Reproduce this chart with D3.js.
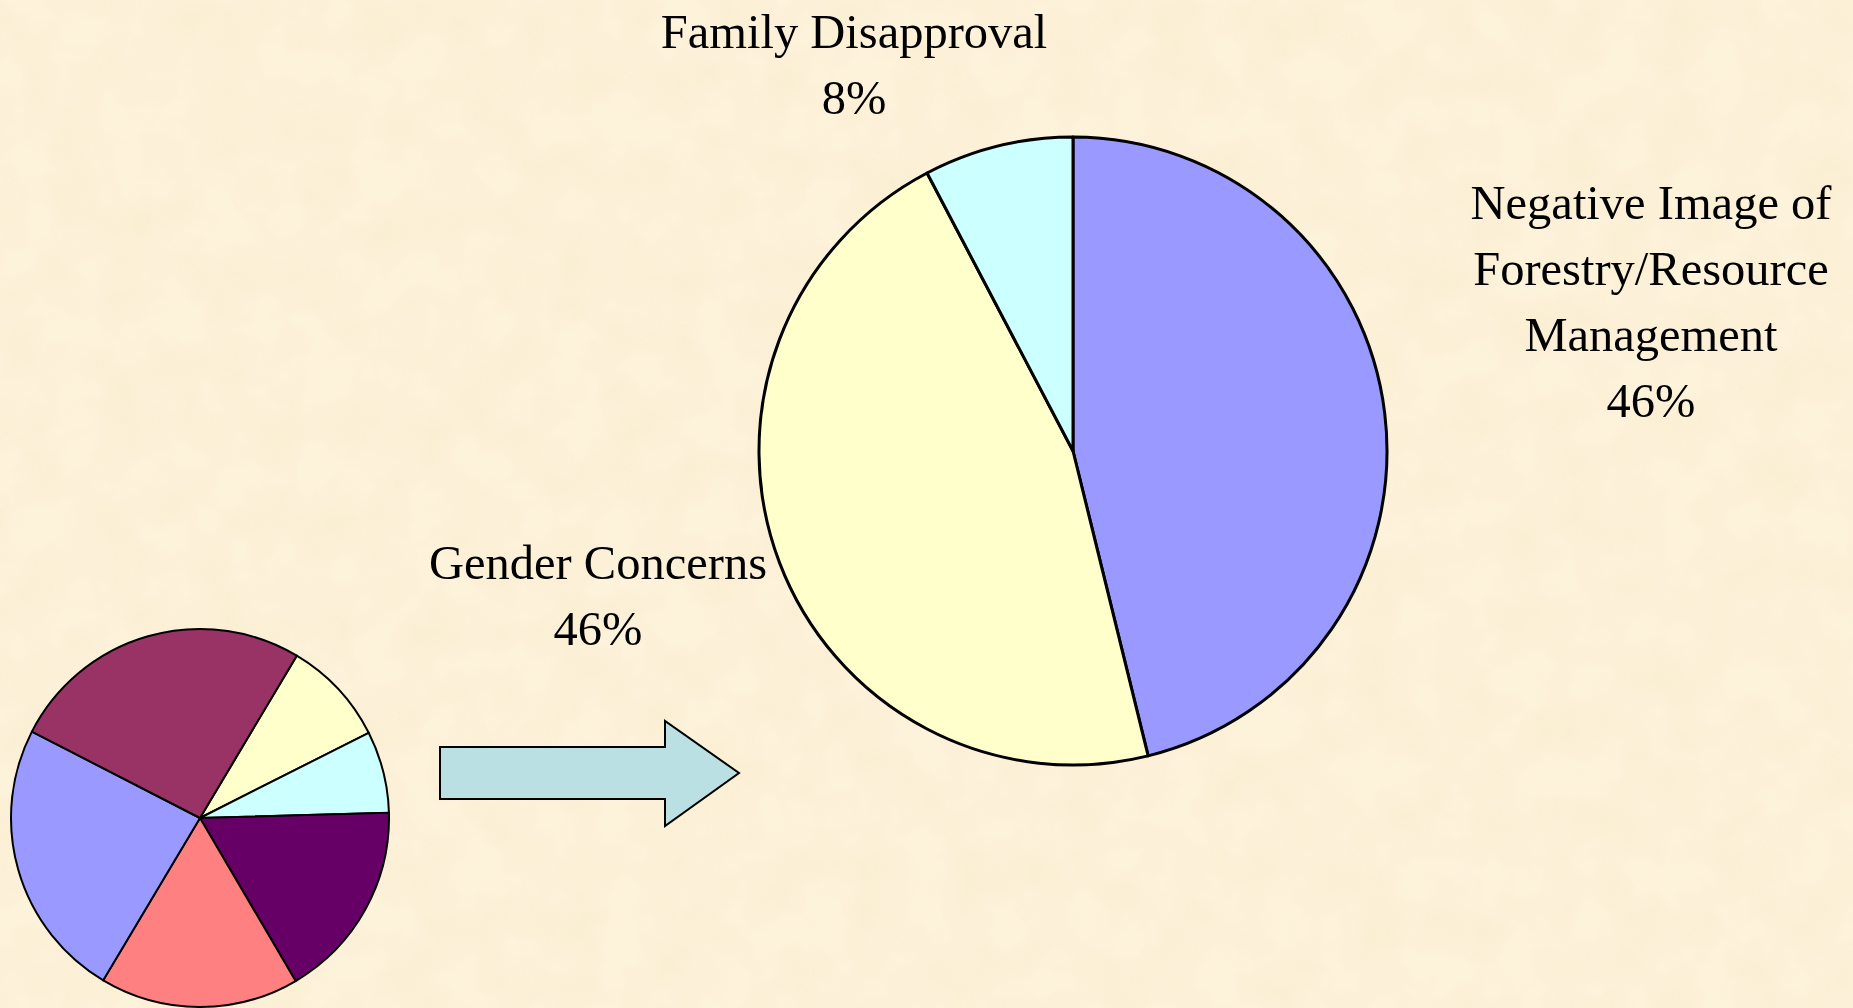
<!DOCTYPE html>
<html lang="en">
<head>
    <title>Reasons pie</title>
    <meta charset="utf-8">
    <style>
        body { margin: 0; overflow: hidden; background: #fbedd0; }
        .label {
            font-family: 'Liberation Serif', 'Times New Roman', serif;
            font-size: 48.5px;
            fill: black;
            text-anchor: middle;
        }
        .slice { stroke: black; stroke-linejoin: round; }
    </style>
</head>
<body>
<svg id="chart"></svg>
<script src="https://d3js.org/d3.v7.min.js"></script>
<script>
// overview pie (no labels)
const smallValues = [9, 7, 17, 17, 24, 26];
const smallColors = ["#FFFFCC", "#CCFFFF", "#660066", "#FF8080", "#9999FF", "#993366"];

// detail pie (counts -> shown as %)
const bigCategories = [
    ["Negative Image of", "Forestry/Resource", "Management"],
    ["Gender Concerns"],
    ["Family Disapproval"]
];
const bigValues = [6, 6, 1];
const bigColors = ["#9999FF", "#FFFFCC", "#CCFFFF"];

const W = 1853, H = 1008;
let svg = d3.select("#chart").attr("width", W).attr("height", H);

// parchment background
let defs = svg.append("defs");
let filt = defs.append("filter").attr("id", "paper")
    .attr("x", 0).attr("y", 0).attr("width", "100%").attr("height", "100%");
filt.append("feTurbulence")
    .attr("type", "fractalNoise")
    .attr("baseFrequency", 0.02)
    .attr("numOctaves", 3)
    .attr("seed", 7);
filt.append("feColorMatrix")
    .attr("type", "matrix")
    .attr("values", "0 0 0 0 0.92  0 0 0 0 0.82  0 0 0 0 0.58  0 0 0 -1.3 0.85");
svg.append("rect").attr("width", W).attr("height", H).attr("fill", "#fdf2da");
svg.append("rect").attr("width", W).attr("height", H).attr("filter", "url(#paper)").attr("opacity", 0.6);

// small pie
let small = {cx: 200, cy: 818, r: 189, start: 30.8 * Math.PI / 180};
let smallPie = d3.pie().sort(null).value(d => d)
    .startAngle(small.start).endAngle(small.start + 2 * Math.PI);
let smallArc = d3.arc().innerRadius(0).outerRadius(small.r);
svg.append("g")
    .attr("transform", "translate(" + small.cx + "," + small.cy + ")")
    .selectAll("path")
    .data(smallPie(smallValues))
    .join("path")
    .attr("class", "slice")
    .attr("d", smallArc)
    .attr("fill", (d, i) => smallColors[i])
    .attr("stroke-width", 2);

// arrow
let arrowPts = [[0, 0], [225, 0], [225, -26], [299, 26], [225, 79], [225, 52], [0, 52]];
svg.append("path")
    .attr("transform", "translate(440,747)")
    .attr("d", d3.line()(arrowPts) + "Z")
    .attr("fill", "#BBE0E3")
    .attr("stroke", "black")
    .attr("stroke-width", 2)
    .attr("stroke-linejoin", "miter");

// big pie
let big = {cx: 1073, cy: 451, r: 314};
let bigPie = d3.pie().sort(null).value(d => d);
let bigArc = d3.arc().innerRadius(0).outerRadius(big.r);
let gBig = svg.append("g")
    .attr("transform", "translate(" + big.cx + "," + big.cy + ")");
gBig.selectAll("path")
    .data(bigPie(bigValues))
    .join("path")
    .attr("class", "slice")
    .attr("d", bigArc)
    .attr("fill", (d, i) => bigColors[i])
    .attr("stroke-width", 3);

// labels, offsets from pie centre to first baseline
let labelPos = [[578, -232], [-475, 128], [-219, -403]];
let lineGap = 66;
let fmt = d3.format(".0%");
let total = d3.sum(bigValues);
gBig.selectAll("text")
    .data(bigValues)
    .join("text")
    .attr("class", "label")
    .attr("transform", (d, i) => "translate(" + labelPos[i][0] + "," + labelPos[i][1] + ")")
    .each(function(d, i) {
        let lines = bigCategories[i].concat([fmt(d / total)]);
        d3.select(this).selectAll("tspan")
            .data(lines)
            .join("tspan")
            .attr("x", 0)
            .attr("y", (l, j) => j * lineGap)
            .text(l => l);
    });
</script>
</body>
</html>
